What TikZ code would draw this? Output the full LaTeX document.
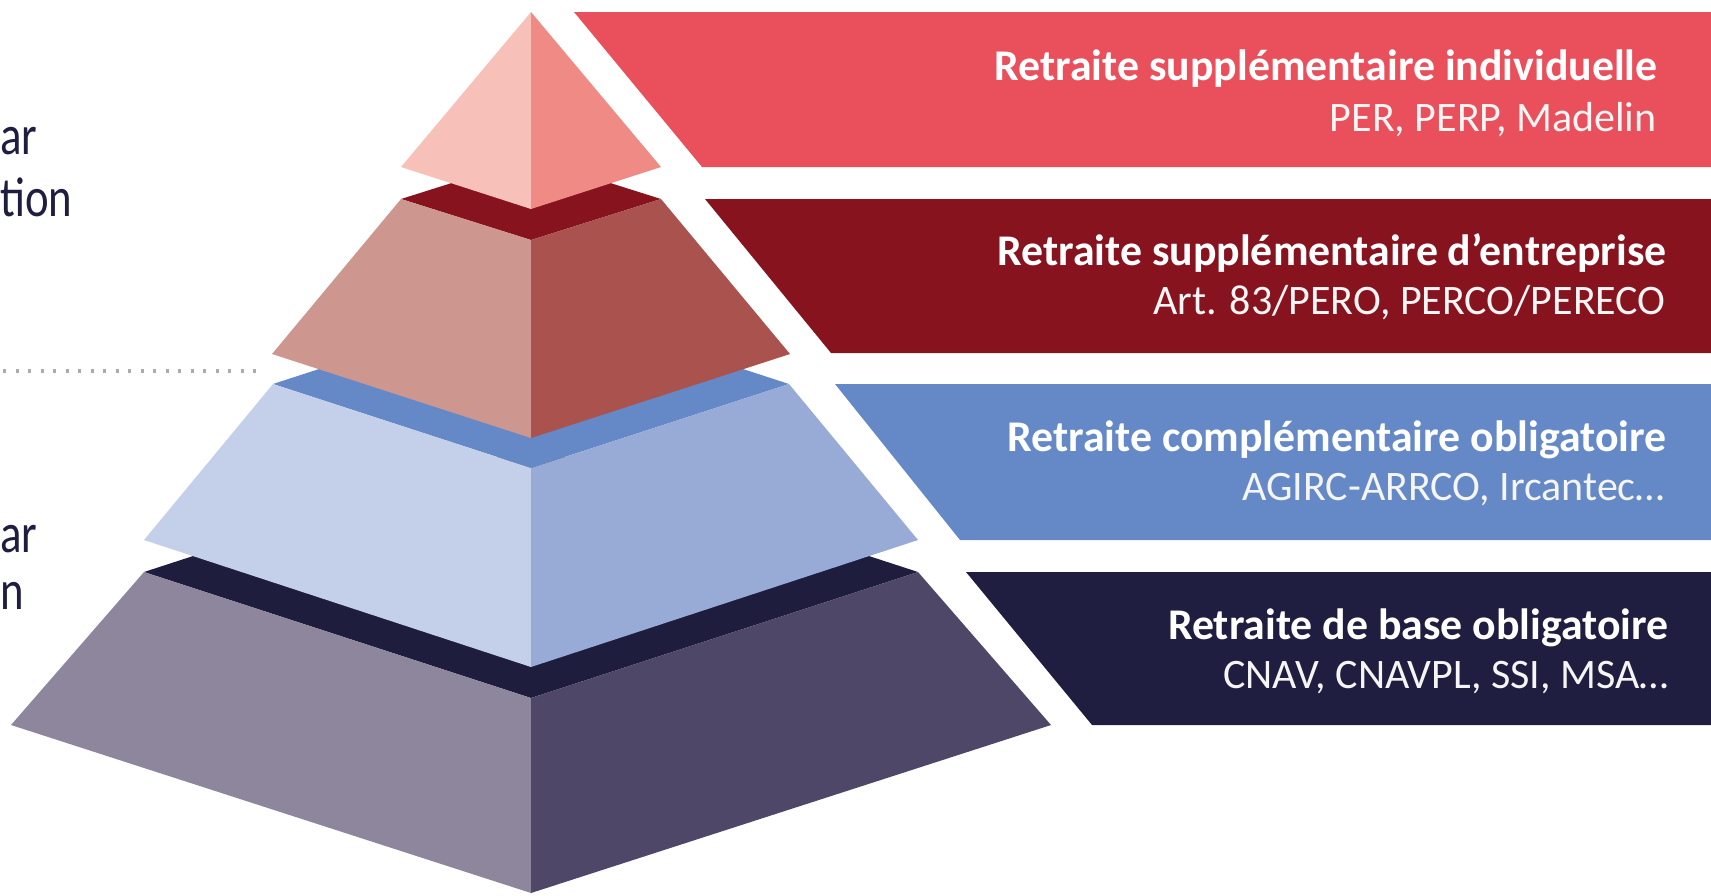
\documentclass[tikz,border=0pt]{standalone}
\usepackage{fontspec}
\setmainfont{Carlito}
\definecolor{laL}{HTML}{F7C0B8}
\definecolor{laR}{HTML}{EF8B84}
\definecolor{lbT}{HTML}{87131F}
\definecolor{lbL}{HTML}{CD968F}
\definecolor{lbR}{HTML}{A9524E}
\definecolor{lcT}{HTML}{6589C6}
\definecolor{lcL}{HTML}{C4CFEA}
\definecolor{lcR}{HTML}{98ABD7}
\definecolor{ldT}{HTML}{1E1D3E}
\definecolor{ldL}{HTML}{8E869C}
\definecolor{ldR}{HTML}{4E4767}
\definecolor{bandA}{HTML}{E9505C}
\definecolor{bandB}{HTML}{87131F}
\definecolor{bandC}{HTML}{6589C6}
\definecolor{bandD}{HTML}{1F1E40}
\definecolor{sideink}{HTML}{1F1E40}
\definecolor{dotgray}{HTML}{ABABAB}
\newcommand{\narrowtext}[1]{\scalebox{0.8}[1]{#1}}
\tikzset{
  titletext/.style={anchor=base east, inner sep=0pt, text=white, font=\fontsize{21.9}{24}\selectfont\bfseries},
  subtext/.style={anchor=base east, inner sep=0pt, text=white!92!gray, font=\fontsize{21}{24}\selectfont},
  sidetext/.style={anchor=base west, inner sep=0pt, text=sideink, font=\fontsize{28}{32}\selectfont},
}
\begin{document}
\begin{tikzpicture}[x=0.5pt,y=-0.5pt]
\useasboundingbox (0,0) rectangle (1711,895);
\clip (0,0) rectangle (1711,895);
% bands
\fill[bandA] (574,12) -- (1711,12) -- (1711,167) -- (702,167) -- cycle;
\fill[bandB] (705,199) -- (1711,199) -- (1711,353) -- (831,353) -- cycle;
\fill[bandC] (835,384) -- (1711,384) -- (1711,540) -- (960,540) -- cycle;
\fill[bandD] (966,572) -- (1711,572) -- (1711,725) -- (1092,725) -- cycle;
% layer 4
\fill[ldT] (144,572) -- (531,446) -- (918,572) -- (531,698) -- cycle;
\fill[ldL] (144,572) -- (531,698) -- (531,893) -- (11,725) -- cycle;
\fill[ldR] (531,698) -- (918,572) -- (1051,725) -- (531,893) -- cycle;
% layer 3
\fill[lcT] (273,384) -- (531,300) -- (789,384) -- (531,468) -- cycle;
\fill[lcL] (273,384) -- (531,468) -- (531,667) -- (144,540) -- cycle;
\fill[lcR] (531,468) -- (789,384) -- (918,540) -- (531,667) -- cycle;
% layer 2
\fill[lbT] (401,199) -- (531,158) -- (661,199) -- (531,240) -- cycle;
\fill[lbL] (401,199) -- (531,240) -- (531,438) -- (272,354) -- cycle;
\fill[lbR] (531,240) -- (661,199) -- (790,354) -- (531,438) -- cycle;
% layer 1
\fill[laL] (531,12) -- (401,167) -- (531,209) -- cycle;
\fill[laR] (531,12) -- (531,209) -- (661,167) -- cycle;
% dotted separator
\coordinate (dotA) at (3,371);
\coordinate (dotB) at (256,371);
\draw[dotgray, line width=1.6pt, dash pattern=on 1.6pt off 4.65pt] (dotA) -- (dotB);
% band texts
\node[titletext] (t1) at (1658,80) {Retraite supplémentaire individuelle};
\node[subtext] (s1) at (1657,131) {PER, PERP, Madelin};
\node[titletext] (t2) at (1667,265) {Retraite supplémentaire d’entreprise};
\node[subtext] (s2) at (1666,314) {Art. 83/PERO, PERCO/PERECO};
\node[titletext] (t3) at (1667,451) {Retraite complémentaire obligatoire};
\node[subtext] (s3) at (1665,500) {AGIRC-ARRCO, Ircantec…};
\node[titletext] (t4) at (1669,639) {Retraite de base obligatoire};
\node[subtext] (s4) at (1669,688) {CNAV, CNAVPL, SSI, MSA…};
% left texts
\node[sidetext] (l1) at (0,154) {\narrowtext{ar}};
\node[sidetext] (l2) at (0,216) {\narrowtext{tion}};
\node[sidetext] (l3) at (0,552) {\narrowtext{ar}};
\node[sidetext] (l4) at (0,609) {\narrowtext{n}};
\end{tikzpicture}
\end{document}
